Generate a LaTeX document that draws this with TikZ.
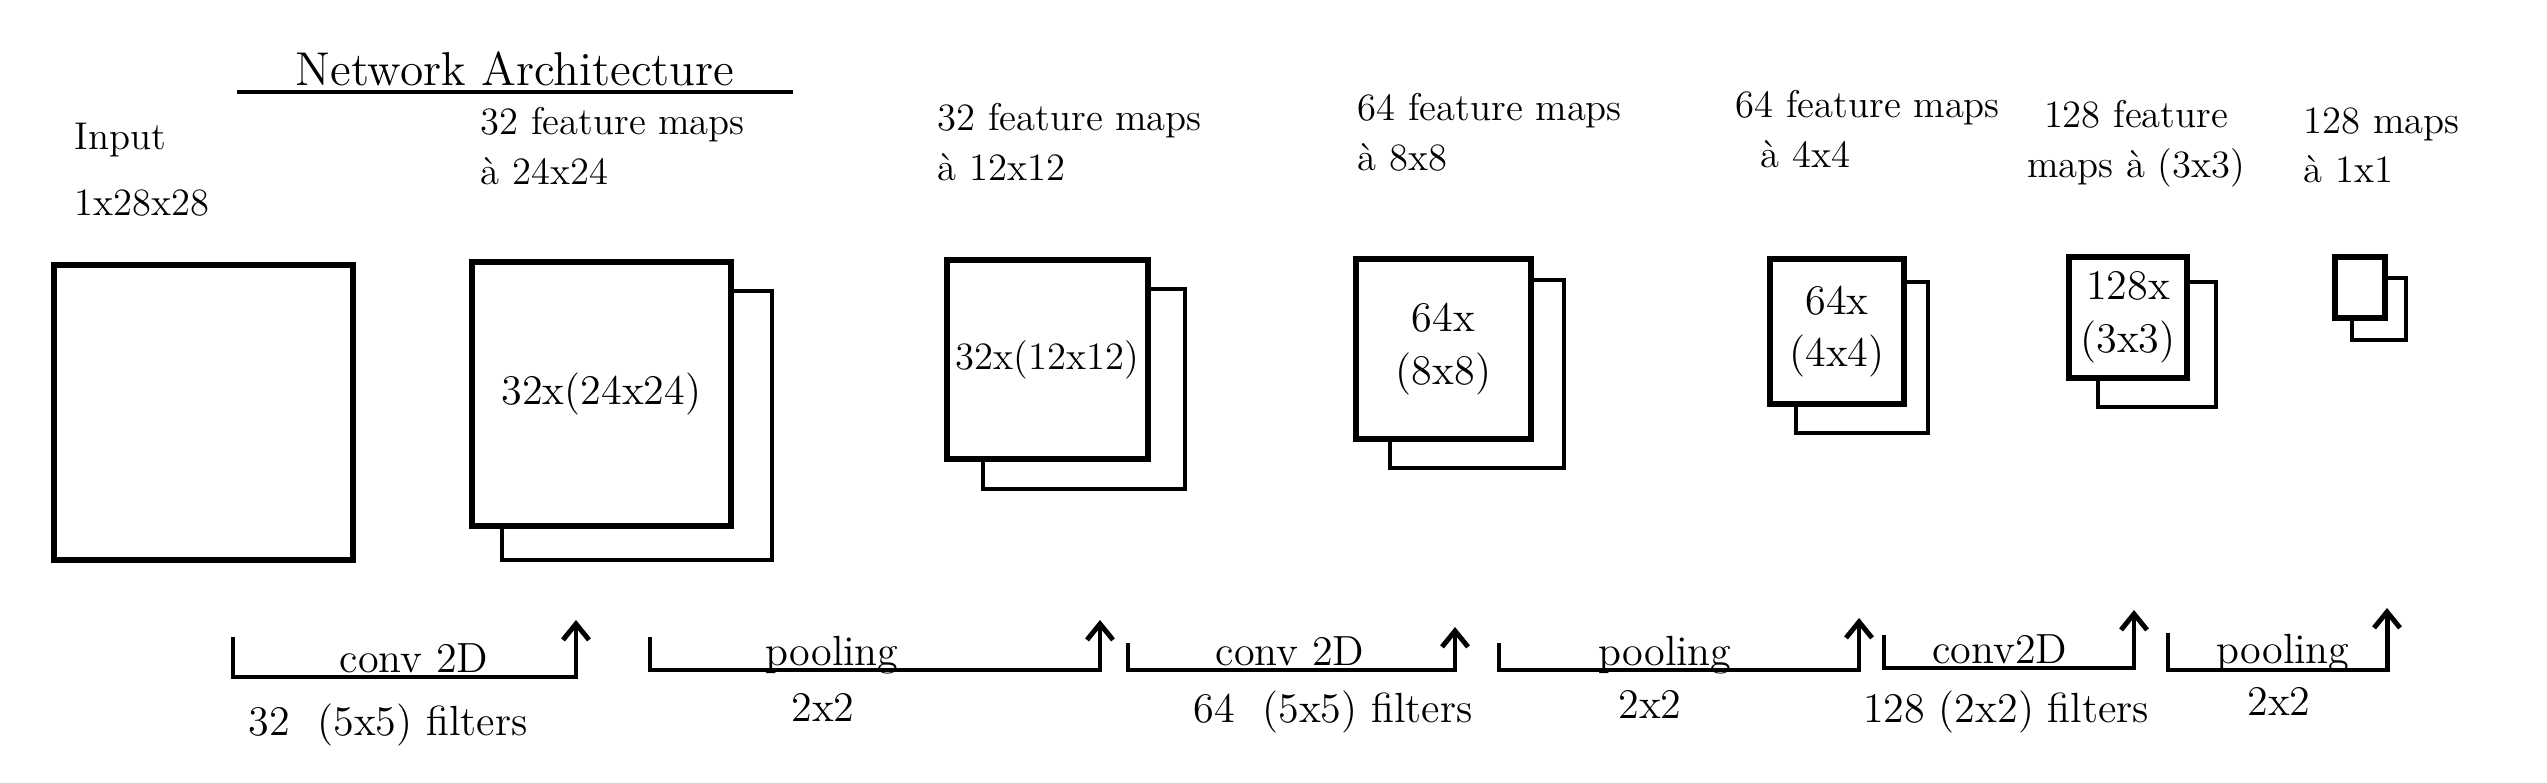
\documentclass[tikz,border=0pt]{standalone}
\usepackage{fontspec}
\usepackage{tikz}
\usetikzlibrary{arrows.meta, positioning}

\begin{document}
\begin{tikzpicture}[
        fmap/.style={rectangle, draw=black, line width=1.5pt, fill=white, inner sep=0pt, align=center, font=\fontsize{12}{15}\selectfont},
        fmapback/.style={rectangle, draw=black, line width=1.2pt, inner sep=0pt},
        maplabel/.style={align=left, inner sep=0pt, anchor=north west, font=\fontsize{11}{14}\selectfont},
        opbracket/.style={line width=1.4pt, -{Straight Barb[length=1.6mm, width=2.6mm]}},
        oplabel/.style={inner sep=0pt, font=\fontsize{12}{14}\selectfont}
    ]
        \useasboundingbox (0,0) rectangle (25.47,-7.83);

        % Title
        \node[inner sep=0pt, anchor=base, font=\fontsize{13.5}{16}\selectfont] (title) at (5.15,-0.86) {Network Architecture};
        \coordinate (ul1) at (2.37,-0.92);
        \coordinate (ul2) at (7.93,-0.92);
        \draw[line width=1.4pt] (ul1) -- (ul2);

        % Feature maps
        \node[fmap, minimum width=2.99cm, minimum height=2.95cm] (m1) at (2.035,-4.125) {};

        \node[fmapback, minimum width=2.70cm, minimum height=2.69cm] (m2b) at (6.37,-4.255) {};
        \node[fmap, minimum width=2.59cm, minimum height=2.64cm] (m2) at (6.015,-3.94) {32x(24x24)};

        \node[fmapback, minimum width=2.02cm, minimum height=2.00cm] (m3b) at (10.84,-3.89) {};
        \node[fmap, minimum width=2.01cm, minimum height=1.99cm, font=\fontsize{11}{14}\selectfont] (m3) at (10.475,-3.595) {32x(12x12)};

        \node[fmapback, minimum width=1.74cm, minimum height=1.88cm] (m4b) at (14.77,-3.74) {};
        \node[fmap, minimum width=1.75cm, minimum height=1.80cm] (m4) at (14.435,-3.49) {64x\\(8x8)};

        \node[fmapback, minimum width=1.32cm, minimum height=1.51cm] (m5b) at (18.62,-3.575) {};
        \node[fmap, minimum width=1.34cm, minimum height=1.45cm] (m5) at (18.37,-3.315) {64x\\(4x4)};

        \node[fmapback, minimum width=1.18cm, minimum height=1.25cm] (m6b) at (21.57,-3.445) {};
        \node[fmap, minimum width=1.18cm, minimum height=1.21cm] (m6) at (21.28,-3.175) {128x\\(3x3)};

        \node[fmapback, minimum width=0.54cm, minimum height=0.62cm] (m7b) at (23.79,-3.09) {};
        \node[fmap, minimum width=0.50cm, minimum height=0.61cm] (m7) at (23.60,-2.875) {};

        % Map labels
        \node[maplabel, font=\fontsize{11}{19}\selectfont] (l1) at (0.74,-1.22) {Input\\1x28x28};
        \node[maplabel] (l2) at (4.80,-1.07) {32 feature maps\\à 24x24};
        \node[maplabel] (l3) at (9.37,-1.03) {32 feature maps\\à 12x12};
        \node[maplabel] (l4) at (13.57,-0.93) {64 feature maps\\à 8x8};
        \node[maplabel] (l5) at (17.35,-0.90) {64 feature maps\\\hspace*{0.25cm}à 4x4};
        \node[maplabel, align=center, anchor=north] (l6) at (21.36,-1.00) {128 feature\\maps à (3x3)};
        \node[maplabel] (l7) at (23.03,-1.07) {128 maps\\à 1x1};

        % Operations
        \coordinate (b1l) at (2.33,-6.77);  \coordinate (b1r) at (5.76,-6.77);
        \coordinate (b2l) at (6.50,-6.70);  \coordinate (b2r) at (11.00,-6.70);
        \coordinate (b3l) at (11.28,-6.70); \coordinate (b3r) at (14.55,-6.70);
        \coordinate (b4l) at (14.99,-6.70); \coordinate (b4r) at (18.59,-6.70);
        \coordinate (b5l) at (18.84,-6.68); \coordinate (b5r) at (21.34,-6.68);
        \coordinate (b6l) at (21.68,-6.70); \coordinate (b6r) at (23.87,-6.70);

        \draw[opbracket] ([yshift=4mm]b1l) -- (b1l) -- (b1r) -- ([yshift=5.7mm]b1r);
        \draw[opbracket] ([yshift=3.3mm]b2l) -- (b2l) -- (b2r) -- ([yshift=5mm]b2r);
        \draw[opbracket] ([yshift=2.7mm]b3l) -- (b3l) -- (b3r) -- ([yshift=4.3mm]b3r);
        \draw[opbracket] ([yshift=2.7mm]b4l) -- (b4l) -- (b4r) -- ([yshift=5.2mm]b4r);
        \draw[opbracket] ([yshift=3.3mm]b5l) -- (b5l) -- (b5r) -- ([yshift=5.8mm]b5r);
        \draw[opbracket] ([yshift=3.7mm]b6l) -- (b6l) -- (b6r) -- ([yshift=6.2mm]b6r);

        \node[oplabel, anchor=base] (o1) at (4.14,-6.72) {conv 2D};
        \node[oplabel, anchor=north] (f1) at (3.88,-7.03) {32 \ (5x5) filters};
        \node[oplabel, anchor=base] (o2) at (8.32,-6.65) {pooling};
        \node[oplabel, anchor=north] (f2) at (8.23,-6.93) {2x2};
        \node[oplabel, anchor=base] (o3) at (12.90,-6.65) {conv 2D};
        \node[oplabel, anchor=north] (f3) at (13.33,-6.90) {64 \ (5x5) filters};
        \node[oplabel, anchor=base] (o4) at (16.65,-6.65) {pooling};
        \node[oplabel, anchor=north] (f4) at (16.50,-6.90) {2x2};
        \node[oplabel, anchor=base] (o5) at (20.00,-6.63) {conv2D};
        \node[oplabel, anchor=north] (f5) at (20.06,-6.90) {128 (2x2) filters};
        \node[oplabel, anchor=base] (o6) at (22.83,-6.63) {pooling};
        \node[oplabel, anchor=north] (f6) at (22.79,-6.87) {2x2};
    \end{tikzpicture}
\end{document}
